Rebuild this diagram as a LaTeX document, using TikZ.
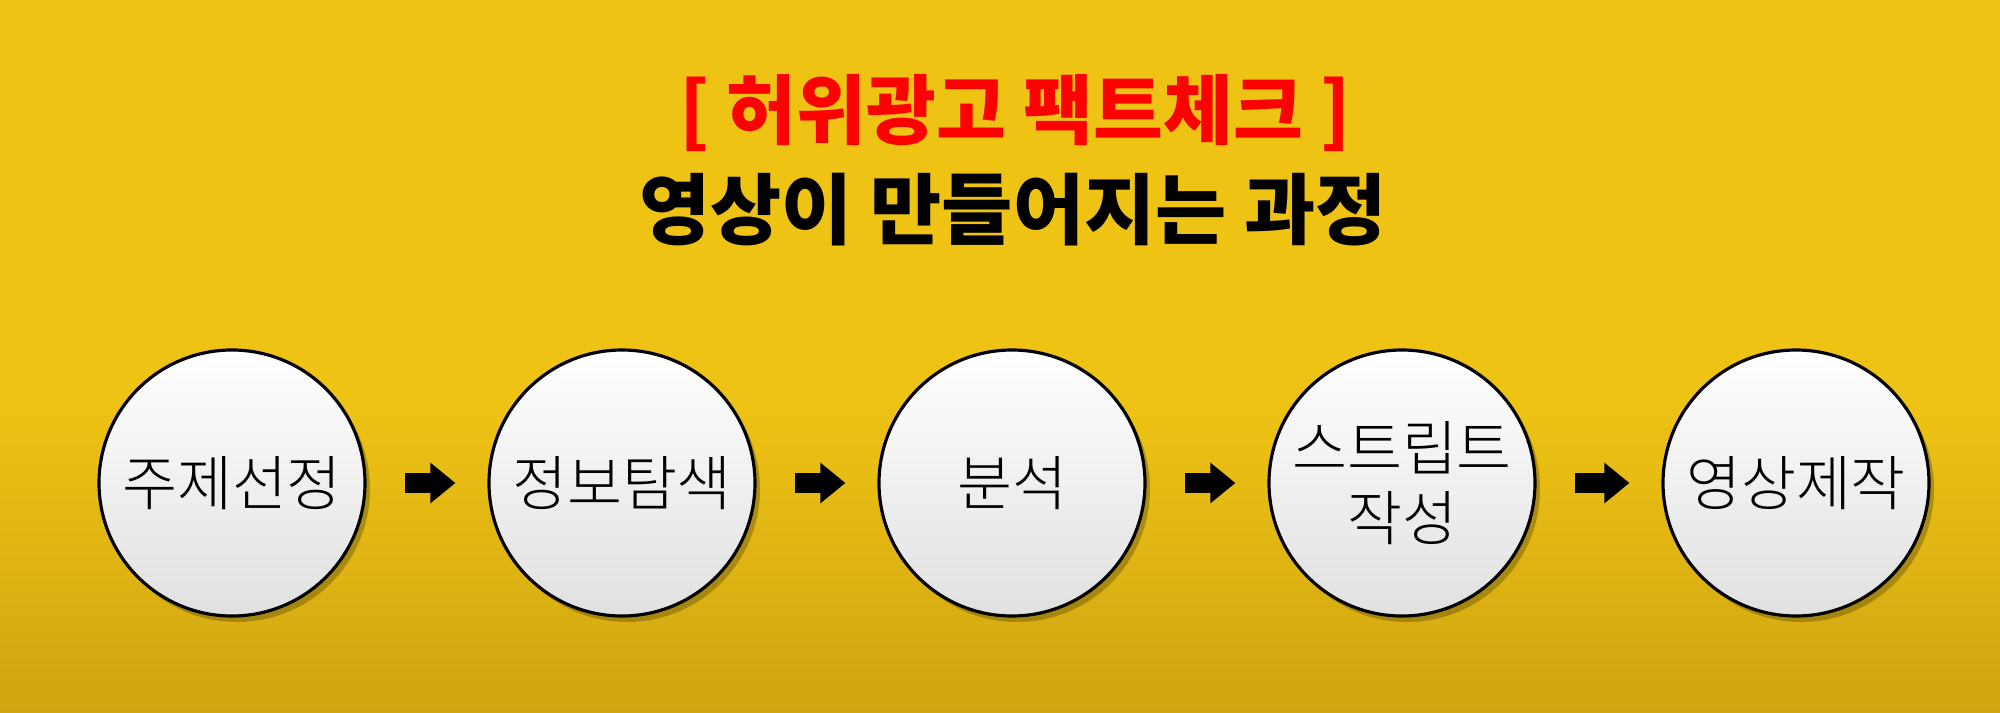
\documentclass[tikz,border=0pt]{standalone}
\usepackage{fontspec}
\setmainfont{Noto Sans CJK KR}
\newfontfamily\lightkr{Noto Sans CJK KR Light}
\newfontfamily\heavykr{Noto Sans CJK KR Black}
\usetikzlibrary{arrows.meta,shadows}
\definecolor{bgtop}{HTML}{EFC313}
\definecolor{bgbot}{HTML}{CFA512}

\begin{document}
\begin{tikzpicture}[
  stepnode/.style={draw,circle,line width=0.9pt,minimum size=2.66cm,inner sep=0pt,
    top color=white,middle color=white,bottom color=black!12,
    drop shadow={shadow xshift=0.05cm,shadow yshift=-0.06cm,fill=black!80!bgtop,opacity=0.3},
    font=\lightkr\fontsize{17}{20}\selectfont,align=center},
  flow/.style={line width=0.2cm,-{Triangle[length=0.25cm,width=0.39cm]},
    shorten <=0.38cm,shorten >=0.32cm}]
\useasboundingbox (0,0) rectangle (20,7.12);
% background
\fill[bgtop] (0,0) rectangle (20,7.12);
\shade[top color=bgtop,bottom color=bgbot] (0,0) rectangle (20,3.12);
% titles
\node[red,font=\heavykr\fontsize{21.6}{24}\selectfont] (t1) at (10.15,5.99) {[ 허위광고 팩트체크 ]};
\node[font=\heavykr\fontsize{22}{24}\selectfont] (t2) at (10.13,5.02) {영상이 만들어지는 과정};
% steps
\node[stepnode] (s1) at (2.32,2.29) {주제선정};
\node[stepnode] (s2) at (6.22,2.29) {정보탐색};
\node[stepnode] (s3) at (10.12,2.29) {분석};
\node[stepnode] (s4) at (14.02,2.29) {스트립트\\작성};
\node[stepnode] (s5) at (17.96,2.29) {영상제작};
\draw[flow] (s1) -- (s2);
\draw[flow] (s2) -- (s3);
\draw[flow] (s3) -- (s4);
\draw[flow] (s4) -- (s5);
\end{tikzpicture}
\end{document}
